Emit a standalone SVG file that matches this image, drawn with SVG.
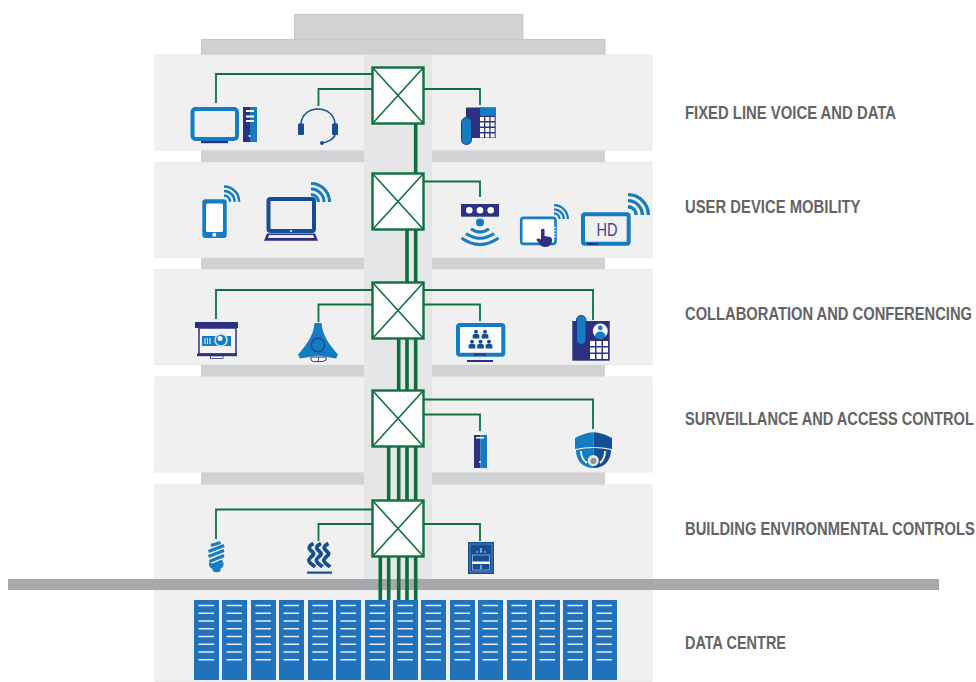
<svg xmlns="http://www.w3.org/2000/svg" xmlns:xlink="http://www.w3.org/1999/xlink" width="976" height="682" viewBox="0 0 976 682">
<style>
.panel{fill:#f0f0f1;stroke:#e9e9ea;stroke-width:1}
.gap{fill:#d1d2d4}
.conn{fill:none;stroke:#0f7040;stroke-width:1.8}
.trunk{fill:none;stroke:#0b6e3c;stroke-width:3.6}
.sw{fill:#fff;stroke:#0f7040;stroke-width:2.4}
.diag{stroke:#0f7040;stroke-width:1.6}
.lbl{font-family:"Liberation Sans",Arial,sans-serif;font-size:17.5px;font-weight:bold;fill:#636466}
.navy{fill:#2b3080}.blue{fill:#147cc2}.dark{fill:#144e95}.white{fill:#fff}.bg{fill:#f0f0f1}
.arc{fill:none;stroke:#147cc2;stroke-width:3}
.wave{fill:none;stroke:#144e95;stroke-width:3.8}
</style>
<defs>
<g id="wifi"><path class="arc" d="M0-7.5A7.5 7.5 0 0 1 7.5 0M0-13A13 13 0 0 1 13 0M0-18.5A18.5 18.5 0 0 1 18.5 0"/></g>
<g id="rack"><rect width="25" height="80" fill="#1f72bb"/><path stroke="#e8eef6" stroke-width="1.6" d="M4.5 5.5H20M4.5 13.3H20M4.5 21H20M4.5 28.8H20M4.5 36.5H20M4.5 44.2H20M4.5 52H20M4.5 59.7H20"/></g>
<g id="switch"><rect class="sw" x="0" y="0" width="51" height="56"/><path class="diag" d="M0 0L51 56M51 0L0 56"/></g>
<g id="person"><circle cx="0" cy="-3.2" r="2"/><path d="M-3.4 3.5V0.5Q-3.4-1 -1.5-1H1.5Q3.4-1 3.4 0.5V3.5Z"/></g>
<path id="wv" class="wave" d="M2.500 543.500C-4 547 -2 549 1.500 552C5.500 555.500 -3.500 557.500 -2 561C-1 564 2 564.500 4 567"/>
</defs>

<g id="building">
<rect x="294.500" y="14.500" width="228.500" height="24.500" fill="#d1d2d4" stroke="#c6c7c9"/>
<rect x="201.500" y="39.500" width="403.500" height="15.500" fill="#cfd0d2" stroke="#c6c7c9"/>
<rect class="gap" x="201" y="150" width="404" height="13"/>
<rect class="gap" x="201" y="257" width="404" height="13"/>
<rect class="gap" x="201" y="364" width="404" height="13"/>
<rect class="gap" x="201" y="471" width="404" height="14"/>
<rect class="panel" x="155" y="55" width="497" height="95"/>
<rect class="panel" x="155" y="162.500" width="497" height="95"/>
<rect class="panel" x="155" y="269.500" width="497" height="95"/>
<rect class="panel" x="155" y="377" width="497" height="95"/>
<rect class="panel" x="155" y="485" width="497" height="95"/>
<rect class="panel" x="155" y="590" width="497" height="92"/>
<rect x="364" y="55" width="68" height="525" fill="#e5e6e8"/>
<rect x="8" y="579" width="931" height="11" fill="#a7a8ab"/>
</g>

<g id="data-centre">
<use xlink:href="#rack" x="194" y="600"/><use xlink:href="#rack" x="222" y="600"/><use xlink:href="#rack" x="251" y="600"/><use xlink:href="#rack" x="279" y="600"/><use xlink:href="#rack" x="308" y="600"/><use xlink:href="#rack" x="336" y="600"/><use xlink:href="#rack" x="365" y="600"/><use xlink:href="#rack" x="393" y="600"/><use xlink:href="#rack" x="421" y="600"/><use xlink:href="#rack" x="450" y="600"/><use xlink:href="#rack" x="478" y="600"/><use xlink:href="#rack" x="507" y="600"/><use xlink:href="#rack" x="535" y="600"/><use xlink:href="#rack" x="563" y="600"/><use xlink:href="#rack" x="592" y="600"/>
</g>

<g id="connectors">
<path class="trunk" d="M415.700 124V600M407 230V600M398.700 339V600M388.700 447V600M380.300 557V600"/>
<path class="conn" d="M372 74H216V103M372 89H318.500V106M424 89H480V105"/>
<path class="conn" d="M424 181.500H480V197"/>
<path class="conn" d="M372 290H216V319M372 304.500H318.500V322M424 290H593V320M424 304.500H480V321"/>
<path class="conn" d="M424 399.500H593V429M424 414.500H480V431"/>
<path class="conn" d="M372 509.500H216V539M372 524H318.500V541M424 524H480V541"/>
</g>

<g id="switch-1"><use xlink:href="#switch" x="372.500" y="67.500"/></g>
<g id="switch-2"><use xlink:href="#switch" x="372.500" y="173.500"/></g>
<g id="switch-3"><use xlink:href="#switch" x="372.500" y="282.500"/></g>
<g id="switch-4"><use xlink:href="#switch" x="372.500" y="390.500"/></g>
<g id="switch-5"><use xlink:href="#switch" x="372.500" y="500.500"/></g>

<g id="desktop-pc">
<rect x="192.500" y="109" width="44.500" height="30" rx="3" fill="#f0f0f1" stroke="#147cc2" stroke-width="4"/>
<rect class="navy" x="201" y="141" width="27" height="2.200"/>
<rect class="navy" x="243" y="107" width="7" height="35"/><rect class="blue" x="250" y="107" width="7" height="35"/>
<path stroke="#fff" stroke-width="1.800" d="M246 111H254M246 116.500H254M246 121H254"/><circle class="white" cx="249.500" cy="136" r="1"/>
</g>
<g id="headset">
<path fill="none" stroke="#144e95" stroke-width="1.500" d="M301 124C302 104 334 104 335 124M335 135C334 139 328 142 322 143"/>
<rect class="dark" x="298" y="123.500" width="6" height="11.500" rx="1"/><rect class="dark" x="332" y="123.500" width="6" height="11.500" rx="1"/><circle class="dark" cx="322" cy="143" r="2"/>
</g>
<g id="ip-phone">
<rect class="navy" x="466" y="107.500" width="29.700" height="30.500"/><rect class="blue" x="480" y="107.500" width="15.700" height="8.500"/>
<path stroke="#fff" stroke-width="4" stroke-dasharray="4 1.300" d="M480 119H495M480 124.500H495M480 130H495M480 135.500H495"/>
<rect class="blue" x="461.500" y="117.500" width="10" height="27" rx="5" stroke="#2b3080"/>
</g>

<g id="smartphone">
<rect class="blue" x="202.300" y="199.300" width="24.400" height="38.700" rx="3"/><rect class="white" x="206" y="203.500" width="17" height="28.500" rx="1.500"/><circle class="white" cx="214.300" cy="234.800" r="2"/>
<use xlink:href="#wifi" transform="translate(224 201.700) scale(.82)"/>
</g>
<g id="laptop">
<rect x="268.500" y="199" width="45.500" height="32" rx="2" fill="#f0f0f1" stroke="#144e95" stroke-width="4"/>
<path class="navy" d="M267 233.500H315L318 240.800H264Z"/><path fill="#f0f0f1" d="M269 235H313L314.500 238H268Z"/><circle class="white" cx="291" cy="231" r="1"/>
<use xlink:href="#wifi" transform="translate(311 202)"/>
</g>
<g id="wireless-ap">
<rect class="navy" x="461" y="204" width="38" height="12.700"/><circle class="white" cx="469.300" cy="210.300" r="3.300"/><circle class="white" cx="480" cy="210.300" r="3.300"/><circle class="white" cx="490.700" cy="210.300" r="3.300"/>
<circle class="blue" cx="480" cy="222.500" r="4"/>
<path class="arc" d="M471 229Q480 235 489 229M466 233.500Q480 243 494 233.500M461.500 238Q480 251 498.500 238"/>
</g>
<g id="tablet">
<rect x="521.200" y="217.900" width="34.300" height="26" rx="2.500" fill="#fff" stroke="#147cc2" stroke-width="2.600"/>
<path stroke="#fff" stroke-width="1.500" stroke-dasharray="1.500 1.500" d="M554.800 227V239"/>
<path class="navy" d="M541 229.500Q543 228 544.500 229.500V236L550 237Q552.500 238 552 241Q551 246.500 546 247Q541 247.500 539 243L536.500 240Q537 237.500 541 239.500Z"/>
<use xlink:href="#wifi" transform="translate(554 219) scale(.75)"/>
</g>
<g id="hd-screen">
<rect x="583" y="214.300" width="45.700" height="29.400" rx="2" fill="#f0f0f1" stroke="#147cc2" stroke-width="4"/>
<rect class="navy" x="587" y="243" width="11" height="2"/>
<text x="607" y="236" text-anchor="middle" font-family="'Liberation Sans',Arial,sans-serif" font-size="18" fill="#3c4590" textLength="21" lengthAdjust="spacingAndGlyphs">HD</text>
<use xlink:href="#wifi" transform="translate(628 215) scale(1.1)"/>
</g>

<g id="projector">
<rect x="199" y="328" width="37" height="26" fill="#f4f4f8" stroke="#2b3080" stroke-width="1.500"/>
<rect class="navy" x="195" y="322" width="43" height="6"/><rect class="navy" x="197" y="353.500" width="40" height="2.700"/>
<rect x="210.500" y="356" width="12.500" height="2.500" fill="#fff" stroke="#2b3080" stroke-width=".8"/>
<rect class="blue" x="202" y="336" width="29" height="10"/>
<path stroke="#fff" stroke-width="1" d="M205 338V344M207.500 338V344M210 338V344"/>
<circle cx="221" cy="340" r="6" fill="#147cc2" stroke="#cfe4f4" stroke-width="1.500"/><circle class="white" cx="220" cy="338.500" r="2.500"/>
</g>
<g id="speakerphone">
<path d="M311 357H326L326 360Q324 362 318 361.500Q312 362 311 360Z" fill="#fff" stroke="#2b3080" stroke-width="1"/>
<path stroke="#2b3080" stroke-width=".8" d="M318.500 357V361"/>
<path class="blue" d="M314.500 323H321.500C322 334 329 345 338 354.500L336 358.500L327 357Q318 354.500 309 357L300 358.500L298 354.500C307 345 314 334 314.500 323Z"/>
<circle cx="318" cy="345" r="6.700" fill="none" stroke="#144e95" stroke-width="1.400"/>
</g>
<g id="video-monitor">
<rect x="458" y="325" width="45.300" height="29.700" rx="2" fill="#fff" stroke="#147cc2" stroke-width="4"/>
<rect class="navy" x="474" y="353.500" width="12" height="2"/><rect class="navy" x="467" y="360" width="26" height="2"/>
<g class="dark"><use xlink:href="#person" x="476" y="335"/><use xlink:href="#person" x="485" y="335"/><use xlink:href="#person" x="472" y="345"/><use xlink:href="#person" x="480.500" y="345"/><use xlink:href="#person" x="489" y="345"/></g>
</g>
<g id="video-phone">
<rect class="navy" x="572.300" y="321" width="37.400" height="39.700"/>
<rect class="blue" x="576.500" y="315.500" width="9.500" height="29" rx="4.700" stroke="#2b3080"/>
<circle class="white" cx="600.300" cy="331" r="7.500"/><g class="blue"><circle cx="600.300" cy="328" r="2.400"/><path d="M594.800 337Q595.500 331.500 600.300 331.500Q605 331.500 605.800 337Q600.300 339.500 594.800 337Z"/></g>
<path stroke="#fff" stroke-width="5" stroke-dasharray="5 1.500" d="M590 343.500H608M590 350H608M590 356.500H608"/>
</g>

<g id="access-server">
<rect class="navy" x="474" y="435" width="6.500" height="33"/><rect class="blue" x="480.500" y="435" width="6.500" height="33"/>
<rect class="white" x="476" y="437" width="8" height="1.500"/><circle class="white" cx="480" cy="462" r="1"/>
</g>
<g id="dome-camera">
<path class="blue" d="M575 438Q584 433 593.500 432.300V447Q584 447 575 449Z"/><path class="dark" d="M593.500 432.300Q603 433 612 438V449Q603 447 593.500 447Z"/>
<path class="blue" d="M576 450Q585 448 593.500 448V468C582 468 576 460 576 450Z"/><path class="dark" d="M593.500 448Q602 448 611 450C611 460 605 468 593.500 468Z"/>
<path fill="none" stroke="#fff" stroke-width="1.800" d="M581 451Q581 459 587 463M605 451Q605 459 600 463"/>
<circle cx="593.300" cy="460.500" r="5.500" fill="#e8e8e8"/><circle cx="593.300" cy="461" r="3" fill="#8f9092"/>
</g>

<g id="bulb">
<path fill="none" stroke="#147cc2" stroke-width="3" d="M211 545.500L220.500 542.500M208.500 551.500L224 545.500M208.500 556.500L224 550.500M209.500 561.500L224 555.500M212 565.500L222.500 561"/>
<path class="blue" d="M209 562.500Q216 566 223.500 562.500Q224 567.500 220.500 568.500V571Q218 572.800 214.500 572Q212.500 571.500 212 568.500Q208.500 567.500 209 562.500Z"/>
</g>
<g id="heating">
<use xlink:href="#wv" x="311"/><use xlink:href="#wv" x="318.500"/><use xlink:href="#wv" x="326"/>
<rect class="dark" x="307" y="571.500" width="25" height="2.200"/>
</g>
<g id="fire-panel">
<rect class="dark" x="468" y="542" width="26" height="32"/>
<rect x="470" y="544" width="22" height="28" fill="none" stroke="#7f9cc4" stroke-width=".7"/>
<rect x="472.500" y="555" width="17" height="15" fill="none" stroke="#9db4d3" stroke-width=".8"/>
<rect class="white" x="472" y="561.500" width="18" height="2.500"/>
<path stroke="#c9d6e8" stroke-width="1.200" d="M481 548V552M481 565V569M476 552H478M480 552H482M484 552H486"/>
</g>

<g id="labels">
<text class="lbl" transform="translate(685 119) scale(.85 1)" textLength="248.200" lengthAdjust="spacingAndGlyphs">FIXED LINE VOICE AND DATA</text>
<text class="lbl" transform="translate(685 213) scale(.85 1)" textLength="206.500" lengthAdjust="spacingAndGlyphs">USER DEVICE MOBILITY</text>
<text class="lbl" transform="translate(685 320) scale(.85 1)" textLength="337.600" lengthAdjust="spacingAndGlyphs">COLLABORATION AND CONFERENCING</text>
<text class="lbl" transform="translate(685 425) scale(.8 1)" textLength="361" lengthAdjust="spacingAndGlyphs">SURVEILLANCE AND ACCESS CONTROL</text>
<text class="lbl" transform="translate(685 535) scale(.85 1)" textLength="341" lengthAdjust="spacingAndGlyphs">BUILDING ENVIRONMENTAL CONTROLS</text>
<text class="lbl" transform="translate(685 649) scale(.85 1)" textLength="118.800" lengthAdjust="spacingAndGlyphs">DATA CENTRE</text>
</g>
</svg>
